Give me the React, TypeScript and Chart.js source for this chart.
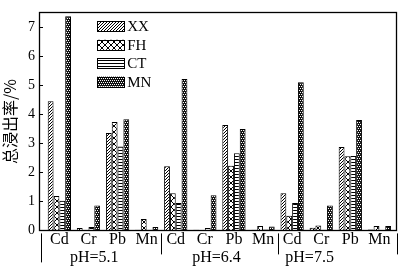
import React, { useEffect, useRef } from "react";
import { Chart, registerables } from "chart.js";

Chart.register(...registerables);

const categories = ["Cd", "Cr", "Pb", "Mn", "Cd", "Cr", "Pb", "Mn", "Cd", "Cr", "Pb", "Mn"];
const seriesNames = ["XX", "FH", "CT", "MN"];
const xxValues = [4.44, 0.08, 3.35, 0.02, 2.21, 0.02, 3.63, 0.02, 1.28, 0.09, 2.87, 0.03];
const fhValues = [1.18, 0, 3.73, 0.39, 1.28, 0.01, 2.22, 0.15, 0.5, 0.17, 2.55, 0.15];
const ctValues = [1.02, 0.12, 2.89, 0.02, 0.94, 0.08, 2.65, 0.03, 0.94, 0.02, 2.56, 0.01];
const mnValues = [7.37, 0.86, 3.82, 0.12, 5.21, 1.21, 3.49, 0.13, 5.1, 0.86, 3.8, 0.15];
const yTicks = [0, 1, 2, 3, 4, 5, 6, 7];
const groupLabels = ["pH=5.1", "pH=6.4", "pH=7.5"];
const groupLabelPositions = [1.2, 5.4, 8.6];
const separatorPositions = [-0.63, 3.5, 7.5, 11.6];
const yTitle = "总浸出率/%";

function makePattern(kind: string): CanvasPattern | string {
  const c = document.createElement("canvas");
  const ctx = c.getContext("2d");
  if (!ctx) return "#888";
  const px = (x: number, y: number, col: string) => {
    ctx.fillStyle = col;
    ctx.fillRect(x, y, 1, 1);
  };
  if (kind === "XX") {
    c.width = 3; c.height = 3;
    ctx.fillStyle = "#fff"; ctx.fillRect(0, 0, 3, 3);
    for (let i = 0; i < 3; i++) px(2 - i, i, "#000");
  } else if (kind === "FH") {
    c.width = 6; c.height = 6;
    ctx.fillStyle = "#fff"; ctx.fillRect(0, 0, 6, 6);
    for (let i = 0; i < 6; i++) { px(i, i, "#000"); px(5 - i, i, "#000"); }
  } else if (kind === "CT") {
    c.width = 3; c.height = 3;
    ctx.fillStyle = "#fff"; ctx.fillRect(0, 0, 3, 3);
    ctx.fillStyle = "#000"; ctx.fillRect(0, 0, 3, 1);
  } else {
    c.width = 4; c.height = 4;
    ctx.fillStyle = "#111"; ctx.fillRect(0, 0, 4, 4);
    px(0, 0, "#fff"); px(2, 0, "#fff"); px(1, 2, "#fff"); px(3, 2, "#fff");
  }
  const p = ctx.createPattern(c, "repeat");
  return p || "#888";
}

export default function App() {
  const ref = useRef<HTMLCanvasElement | null>(null);

  useEffect(() => {
    document.body.style.margin = "0";
    const canvas = ref.current;
    if (!canvas) return;
    const seriesValues = [xxValues, fhValues, ctValues, mnValues];
    const patterns = seriesNames.map((n) => makePattern(n));

    const decor = {
      id: "decor",
      afterDraw(chart: any) {
        const ctx = chart.ctx as CanvasRenderingContext2D;
        const area = chart.chartArea;
        const xs = chart.scales.x;
        const ys = chart.scales.y;
        ctx.save();
        ctx.strokeStyle = "#000";
        ctx.lineWidth = 1.3;
        ctx.strokeRect(Math.round(area.left) + 0.5, Math.round(area.top) + 0.5,
          Math.round(area.right - area.left), Math.round(area.bottom - area.top));
        // inward y ticks
        ctx.lineWidth = 1;
        yTicks.forEach((v) => {
          const y = Math.round(ys.getPixelForValue(v)) + 0.5;
          ctx.beginPath();
          ctx.moveTo(area.left, y);
          ctx.lineTo(area.left + 4, y);
          ctx.stroke();
        });
        // group separators
        separatorPositions.forEach((v, i) => {
          const x = Math.round(xs.getPixelForValue(v)) + 0.5;
          ctx.beginPath();
          ctx.moveTo(x, area.bottom + 3);
          ctx.lineTo(x, area.bottom + (i === 0 ? 32 : 24));
          ctx.stroke();
        });
        // group labels
        ctx.fillStyle = "#000";
        ctx.font = "16px 'Liberation Serif'";
        ctx.textAlign = "center";
        ctx.textBaseline = "alphabetic";
        groupLabels.forEach((t, i) => {
          ctx.fillText(t, xs.getPixelForValue(groupLabelPositions[i]), area.bottom + 32);
        });
        // legend
        const bx = xs.getPixelForValue(1.3);
        ctx.textAlign = "left";
        ctx.textBaseline = "middle";
        ctx.font = "15px 'Liberation Serif'";
        chart.data.datasets.forEach((ds: any, i: number) => {
          const cy = area.top + 14 + i * 18.4;
          ctx.fillStyle = ds.backgroundColor;
          ctx.fillRect(bx, cy - 5, 27, 10);
          ctx.strokeStyle = "#000";
          ctx.lineWidth = 1;
          ctx.strokeRect(Math.round(bx) + 0.5, Math.round(cy - 5) + 0.5, 27, 10);
          ctx.fillStyle = "#000";
          ctx.fillText(ds.label, bx + 30, cy + 1);
        });
        ctx.restore();
      },
    };

    const chart = new Chart(canvas, {
      type: "bar",
      data: {
        datasets: seriesNames.map((name, si) => ({
          label: name,
          data: categories.map((_, i) => ({ x: i, y: seriesValues[si][i] })),
          backgroundColor: patterns[si] as any,
          borderColor: "#000",
          borderWidth: 1,
          categoryPercentage: 0.8,
          barPercentage: 1,
        })),
      },
      options: {
        responsive: false,
        animation: false,
        events: [],
        layout: { padding: { top: 1, right: 4, left: 0, bottom: 0 } },
        plugins: { legend: { display: false }, tooltip: { enabled: false } },
        scales: {
          x: {
            type: "linear",
            offset: false,
            min: -0.7,
            max: 11.57,
            grid: { display: false, drawTicks: false, offset: false },
            border: { display: false },
            afterBuildTicks: (scale: any) => {
              scale.ticks = categories.map((_, i) => ({ value: i }));
            },
            afterFit: (scale: any) => { scale.height = 36.6; },
            ticks: {
              autoSkip: false,
              maxRotation: 0,
              minRotation: 0,
              padding: 0,
              color: "#000",
              font: { family: "'Liberation Serif'", size: 16 },
              callback: (v: any) => categories[Math.round(Number(v))] ?? "",
            },
          },
          y: {
            min: 0,
            max: 7.5,
            grid: { display: false, drawTicks: false },
            border: { display: false },
            afterBuildTicks: (scale: any) => {
              scale.ticks = yTicks.map((v) => ({ value: v }));
            },
            afterFit: (scale: any) => { scale.width = 39; },
            ticks: {
              padding: 4,
              color: "#000",
              font: { family: "'Liberation Serif'", size: 14 },
            },
            title: {
              display: true,
              text: yTitle,
              color: "#000",
              padding: { top: 0, bottom: 0 },
              font: { family: "'Noto Sans CJK SC'", size: 16 },
            },
          },
        },
      },
      plugins: [decor],
    } as any);

    return () => chart.destroy();
  }, []);

  return (
    <div style={{ position: "fixed", left: 0, top: 0, width: 400, height: 267, background: "#fff" }}>
      <canvas ref={ref} width={400} height={267} style={{ width: 400, height: 267, display: "block" }} />
    </div>
  );
}
